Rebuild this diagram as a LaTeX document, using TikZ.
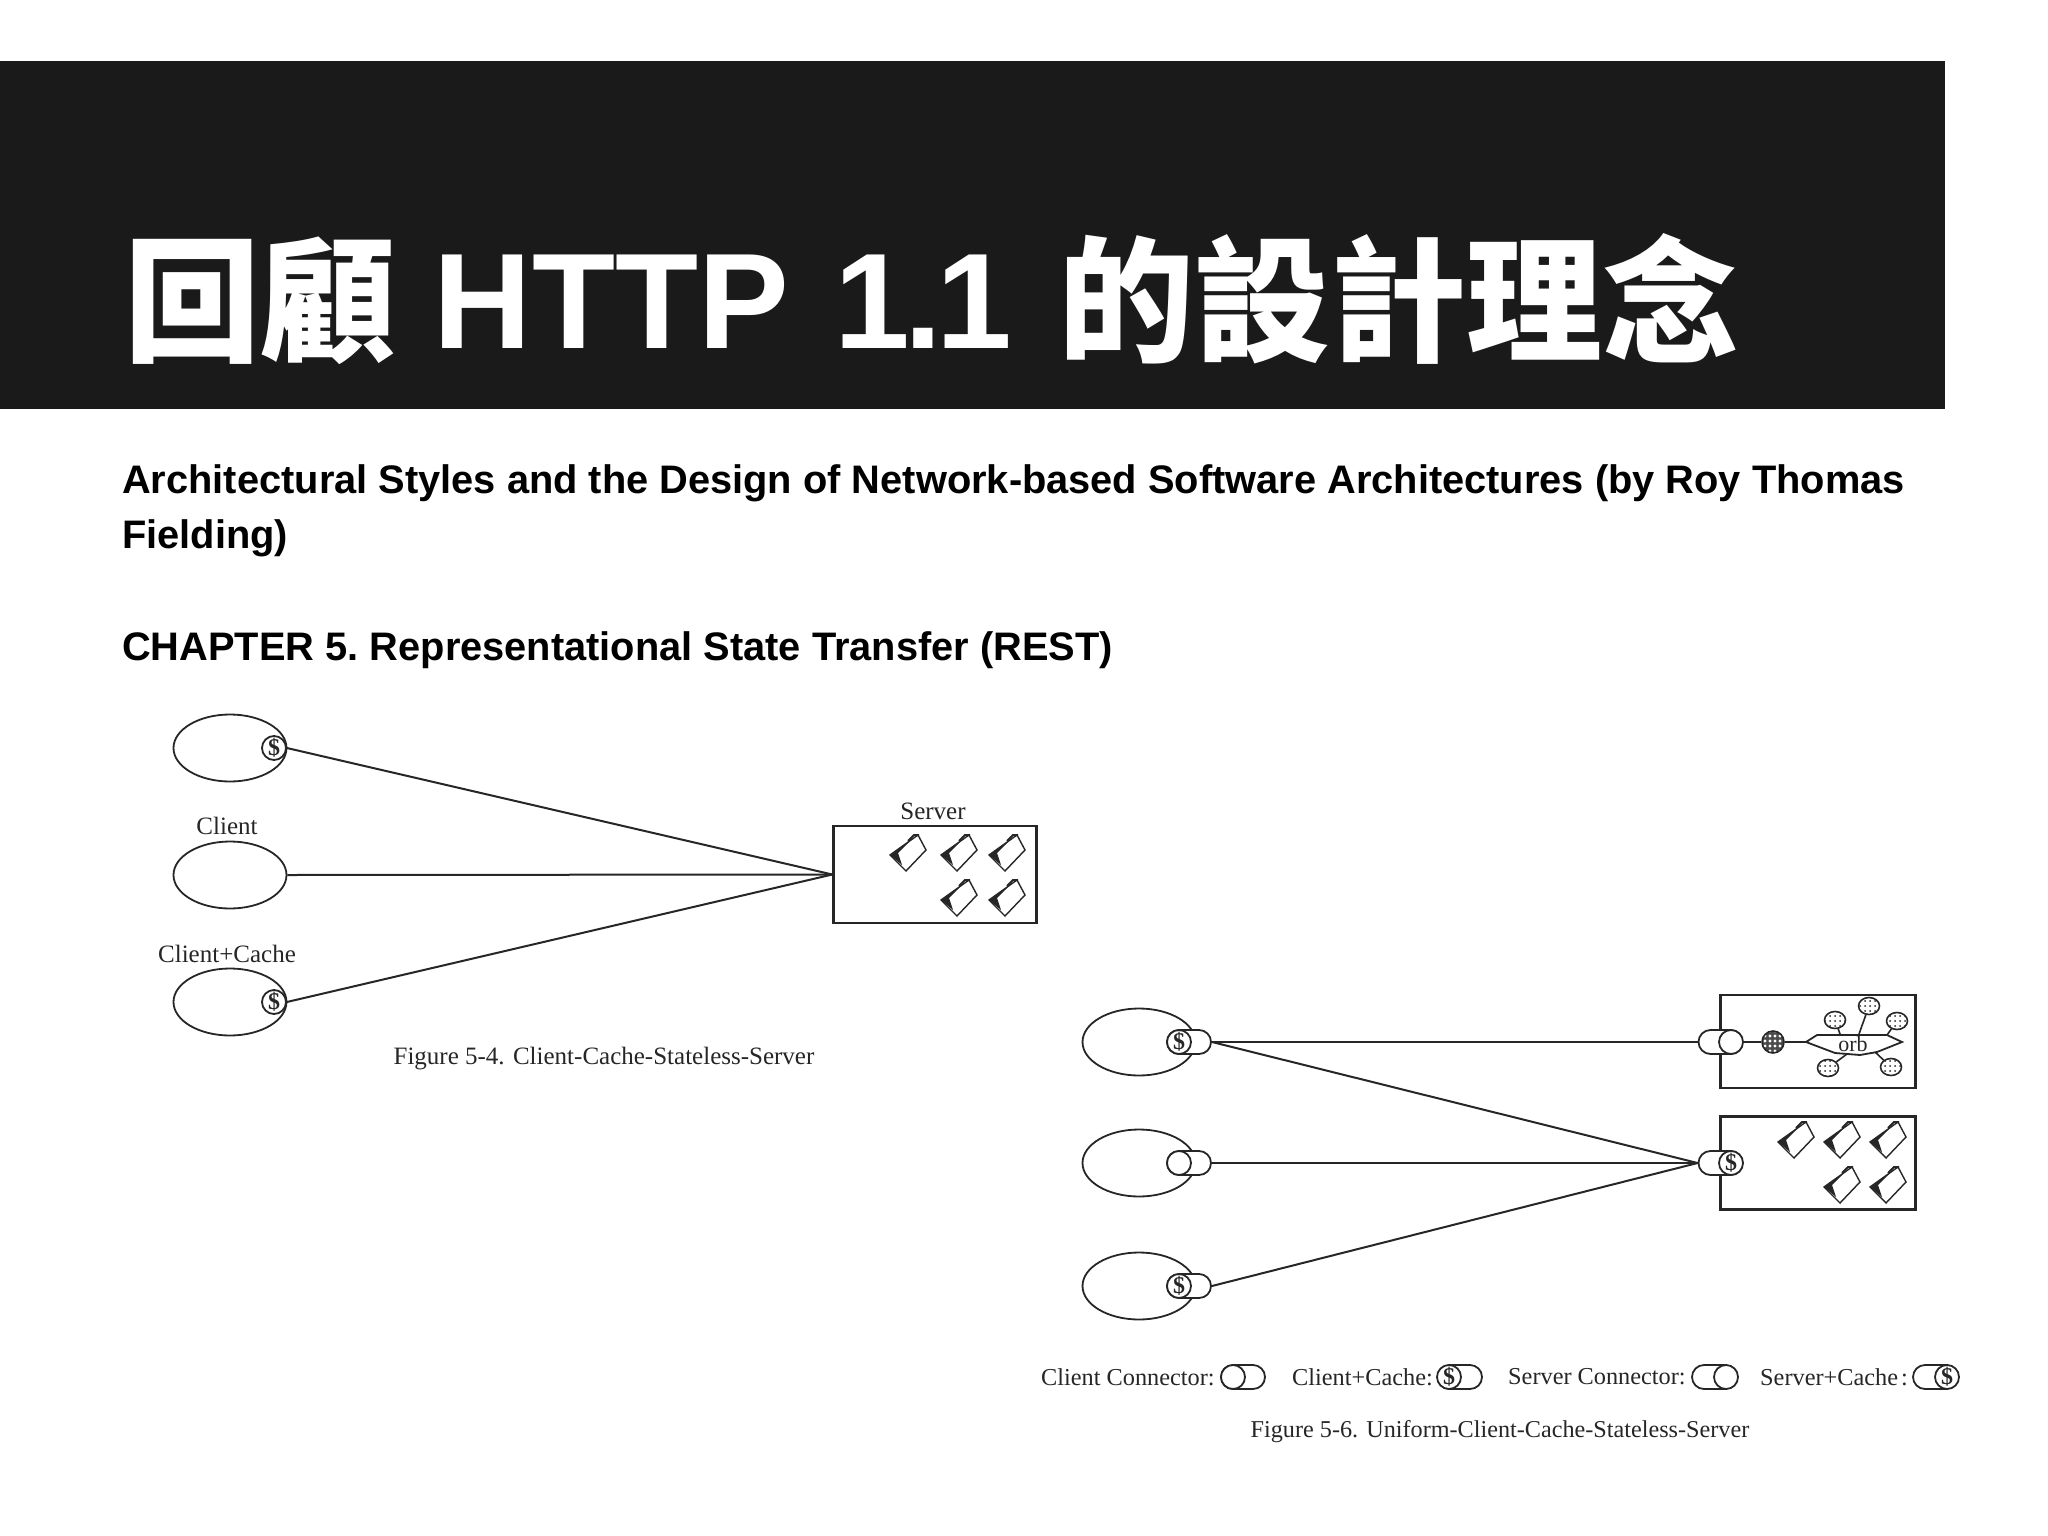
\documentclass[tikz,border=0pt]{standalone}
\usepackage{fontspec}
\setmainfont{Liberation Sans}
\newfontfamily\cjk{Noto Sans CJK TC}
\newfontfamily\figfont{Liberation Serif}
\usetikzlibrary{shapes,patterns.meta}
\definecolor{band}{HTML}{1A1A1A}
\colorlet{ink}{black!85}
\newcommand{\cjkbig}[1]{\raisebox{-3pt}{\cjk\fontsize{136}{136}\selectfont #1}}
\tikzset{
	client/.style={draw=ink, line width=1.8pt, ellipse, fill=white, minimum width=113pt, minimum height=67pt, inner sep=0pt},
	cache/.style={draw=ink, line width=1.8pt, circle, fill=white, minimum size=24pt, inner sep=0pt, font=\figfont\bfseries\fontsize{24}{24}\selectfont, text=ink},
	conn/.style={draw=ink, line width=1.8pt, rounded rectangle, fill=white, minimum width=44pt, minimum height=24pt, inner sep=0pt},
	serverbox/.style={draw=ink, line width=2.4pt, inner sep=0pt},
	label/.style={font=\figfont\fontsize{25}{25}\selectfont, text=ink, inner sep=0pt},
	legend/.style={font=\figfont\fontsize{24.3}{25}\selectfont, text=ink, inner sep=0pt, anchor=west},
	wire/.style={draw=ink, line width=2pt},
	blob/.style={draw=ink, line width=1.6pt, ellipse, minimum width=21pt, minimum height=17pt, inner sep=0pt, fill=white, pattern={Dots[radius=1pt,distance=5pt]}, pattern color=ink},
	ball/.style={draw=ink, line width=1.6pt, circle, minimum size=22pt, inner sep=0pt, preaction={fill=black!70}, pattern={Dots[radius=1.6pt,distance=5pt]}, pattern color=white},
	folder/.pic={
		\filldraw[draw=ink, fill=white, line width=1.4pt] (-18,3) -- (10,-17) -- (18,-2) -- (-2,19) -- cycle;
		\fill[ink] (-18,3) -- (4,-13) -- (-10,1) -- (-6,13) -- cycle;
		\draw[ink, line width=2pt] (0,-11) -- (6,-17) -- (11,-17);
	}
}
\begin{document}
\begin{tikzpicture}[x=1pt,y=-1pt]
	\useasboundingbox (0,0) rectangle (2048,1536);
	% title band
	\fill[band] (0,61) rectangle (1945,409);
	\node[anchor=base west, inner sep=0pt, text=white, font=\bfseries\fontsize{136}{136}\selectfont] (title) at (124,348) {\cjkbig{回顧} HTTP\kern8pt{} 1\kern-6pt.\kern-6pt1\kern9pt{} \cjkbig{的設計理念}};
	\node[anchor=base west, inner sep=0pt, font=\bfseries\fontsize{39.8}{55}\selectfont] (source) at (122,493) {Architectural Styles and the Design of Network-based Software Architectures (by Roy Thomas};
	\node[anchor=base west, inner sep=0pt, font=\bfseries\fontsize{39.8}{55}\selectfont] (source2) at (122,548) {Fielding)};
	\node[anchor=base west, inner sep=0pt, font=\bfseries\fontsize{39.8}{55}\selectfont] (chapter) at (122,660) {CHAPTER 5.\ Representational State Transfer (REST)};

	% figure 5-4
	\node[client] (a1) at (230,748) {};
	\node[client] (a2) at (230,875) {};
	\node[client] (a3) at (230,1002) {};
	\node[cache] (c1) at (274,748) {\$};
	\node[cache] (c3) at (274,1002) {\$};
	\node[serverbox, minimum width=203pt, minimum height=97pt] (server) at (935,874.5) {};
	\node[label] (l1) at (227,826) {Client};
	\node[label] (l2) at (227,954) {Client+Cache};
	\node[label] (l3) at (933,811) {Server};
	\node[label] (cap1) at (604,1059) {Figure 5-4. Client-Cache-Stateless-Server};
	\draw[wire] (c1.east) -- (server.west);
	\draw[wire] (a2.east) -- (server.west);
	\draw[wire] (c3.east) -- (server.west);
	\foreach \x/\y in {908/852,959/852,1007/852,959/897,1007/897} {
		\pic at (\x,\y) {folder};
	}

	% figure 5-6
	\foreach \i/\y in {1/1042,2/1163,3/1286} {
		\node[client] (b\i) at (1139,\y) {};
		\node[conn] (k\i) at (1189,\y) {};
	}
	\node[cache] (d1) at (1179,1042) {\$};
	\node[cache] (d2) at (1179,1163) {};
	\node[cache] (d3) at (1179,1286) {\$};
	\node[serverbox, minimum width=195pt, minimum height=93pt] (s1) at (1818,1041.5) {};
	\node[serverbox, minimum width=195pt, minimum height=93pt] (s2) at (1818,1163) {};
	\node[conn] (k4) at (1720.5,1042) {};
	\node[conn] (k5) at (1720.5,1163) {};
	\node[cache] (e1) at (1731,1042) {};
	\node[cache] (e2) at (1731,1163) {\$};
	\node[ball] (hub) at (1773,1042) {};
	\draw[wire] (k1.east) -- (k4.west);
	\draw[wire] (k1.east) -- (k5.west);
	\draw[wire] (k2.east) -- (k5.west);
	\draw[wire] (k3.east) -- (k5.west);
	\draw[wire] (e1.east) -- (hub.west);
	\coordinate (tip) at (1806,1042);
	\draw[wire] (hub.east) -- (tip);
	% orb
	\draw[draw=ink, line width=1.8pt, fill=white] (tip) -- (1817,1035) -- (1887,1035) -- (1902,1042) -- (1877,1052) -- (1860,1055) -- (1835,1053) -- cycle;
	\node[label, font=\figfont\fontsize{22}{22}\selectfont] (orb) at (1853,1044) {orb};
	\foreach \n/\x/\y/\p/\q in {1/1835/1020/1840/1034,2/1869/1006/1859/1034,3/1897/1021/1887/1035,4/1828/1068/1847/1054,5/1891/1067/1875/1052} {
		\node[blob] (w\n) at (\x,\y) {};
		\draw[ink, line width=1.6pt] (w\n) -- (\p,\q);
	}
	\foreach \x/\y in {1796/1139,1842/1139,1888/1139,1842/1184,1888/1184} {
		\pic at (\x,\y) {folder};
	}

	% legend
	\node[legend] (t1) at (1041,1377) {Client Connector:};
	\node[conn] (m1) at (1243,1377) {};
	\node[cache] at (1233,1377) {};
	\node[legend] (t2) at (1292,1377) {Client+Cache:};
	\node[conn] (m2) at (1460,1377) {};
	\node[cache] at (1449,1377) {\$};
	\node[legend] (t3) at (1508,1377) {Server Connector:};
	\node[conn] (m3) at (1714,1377) {};
	\node[cache] at (1726,1377) {};
	\node[legend] (t4) at (1760,1377) {Server+Cache\kern-3pt{} :};
	\node[conn] (m4) at (1935,1377) {};
	\node[cache] at (1947,1377) {\$};
	\node[label, font=\figfont\fontsize{24.2}{25}\selectfont] (cap2) at (1500,1432) {Figure 5-6. Uniform-Client-Cache-Stateless-Server};
\end{tikzpicture}
\end{document}
